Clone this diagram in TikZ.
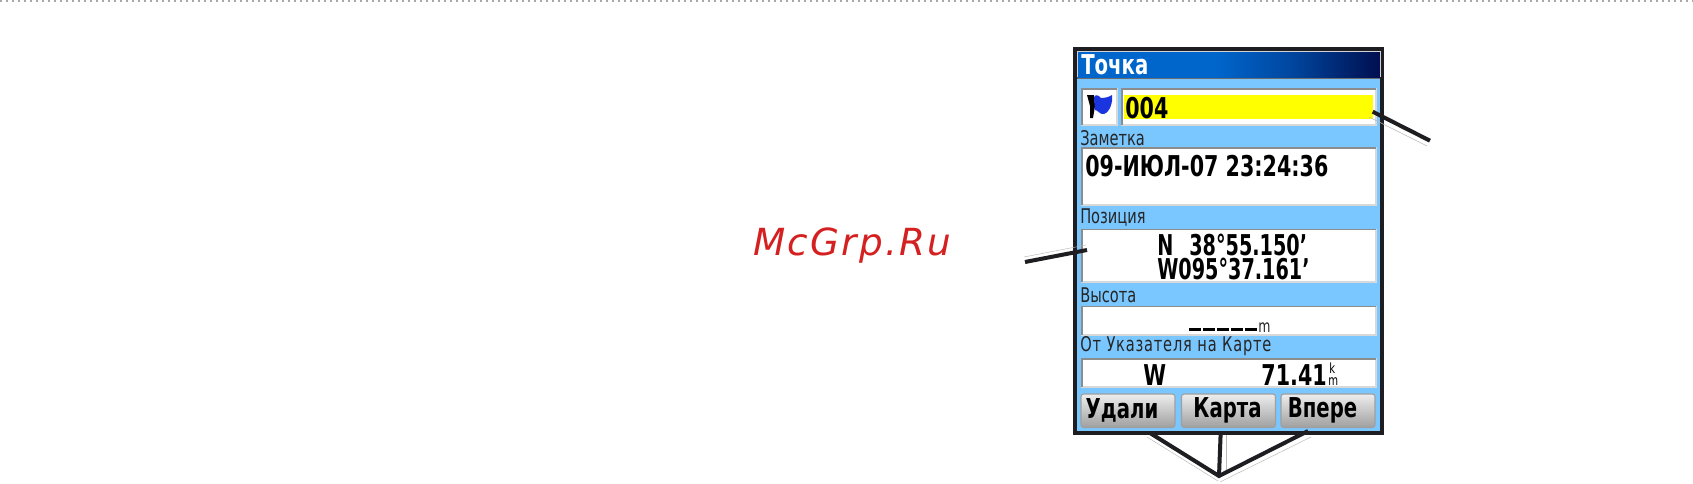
\documentclass[tikz,border=0pt]{standalone}
\usepackage{fontspec}
\setmainfont{DejaVu Sans}
\newfontfamily\lcd[FakeStretch=0.72]{DejaVu Sans}
\newfontfamily\lcdn[FakeStretch=0.67]{DejaVu Sans}
\newlength\pu
\setlength\pu{0.75pt}
\definecolor{scr}{HTML}{7AC6FF}
\definecolor{frameC}{HTML}{1E1E22}
\definecolor{boxedge}{HTML}{D8D8D8}
\definecolor{boxdark}{HTML}{8C8C8C}
\definecolor{wm}{HTML}{D42020}
\definecolor{dots}{HTML}{A8A8A8}
\definecolor{tblue}{HTML}{0066CC}
\definecolor{tmid}{HTML}{0047A0}
\definecolor{tdark}{HTML}{000F50}
\definecolor{hilite}{HTML}{FFFF00}
\definecolor{flagblue}{HTML}{1A35E0}
\tikzset{
 x=0.75pt,y=-0.75pt,
 field/.style={draw=boxedge,line width=0.9pt,fill=white,anchor=north west,inner sep=0pt,outer sep=0pt},
 btn/.style={draw=gray!75,line width=0.8pt,rounded corners=2pt,top color=white!93!black,bottom color=gray!75,anchor=north west,inner sep=0pt,outer sep=0pt,minimum height=33.5\pu,minimum width=94\pu,font=\lcd\bfseries\fontsize{20.5}{22}\selectfont},
 lbl/.style={anchor=west,inner sep=0pt,font=\lcd\fontsize{15.2}{17}\selectfont,text=black!85},
 val/.style={inner sep=0pt,anchor=base west,font=\lcd\bfseries\fontsize{21.5}{23}\selectfont},
 callout/.style={line width=3pt,draw=frameC},
 ghost/.style={line width=0.35pt,draw=gray!55},
}
\begin{document}
\begin{tikzpicture}
\useasboundingbox (0,0) rectangle (1693,483);
\fill[white] (0,0) rectangle (1693,483);
\draw[dots,line width=1.5pt,dash pattern=on 1.5pt off 3pt] (0,1) -- (1693,1);
\node[anchor=base west,inner sep=0pt,font=\itshape\fontsize{28}{30}\selectfont\addfontfeature{LetterSpace=6},text=wm] (wmk) at (753,255) {McGrp.Ru};
% ghost copies of the leader lines
\coordinate (g1a) at (1369,117); \coordinate (g1b) at (1427,146);
\coordinate (g2a) at (1024,257); \coordinate (g2b) at (1086,245);
\coordinate (g3a) at (1147,437); \coordinate (g3b) at (1226,435); \coordinate (g3c) at (1311,437);
\coordinate (g3l) at (1218,481); \coordinate (g3m) at (1226,472); \coordinate (g3r) at (1220,482);
\draw[ghost] (g3a) -- (g3l);
\draw[ghost] (g3b) -- (g3m);
\draw[ghost] (g3c) -- (g3r);
% device
\node[draw=frameC,line width=2.5pt,fill=scr,anchor=north west,minimum width=307\pu,minimum height=384\pu,inner sep=0pt,outer sep=0pt] (device) at (1075,49) {};
\fill[tblue] (1077,51) rectangle (1215,77.5);
\shade[left color=tblue,right color=tmid] (1215,51) rectangle (1290,77.5);
\shade[left color=tmid,right color=tdark] (1290,51) rectangle (1380,77.5);
\draw[gray!35,line width=0.6pt] (1077,77) |- (1380,51) -- (1380,77);
\draw[gray!85!black,line width=1.3pt] (1077,78.5) -- (1380,78.5);
\node[anchor=base west,inner sep=0pt,text=white,font=\lcd\bfseries\fontsize{20.5}{22}\selectfont] (titletxt) at (1081,74) {Точка};
% symbol field
\node[field,minimum width=35\pu,minimum height=36\pu] (flagbox) at (1082,89) {};
\fill[black] (1087,95) -- (1094,95) -- (1095,106) -- (1093,118) -- (1090,118) -- (1090,106) -- cycle;
\fill[flagblue] (1094,97) .. controls (1096,94) and (1098,95) .. (1101,98) .. controls (1105,98) and (1109,97) .. (1112,95) .. controls (1113,102) and (1110,112) .. (1104,114) .. controls (1100,115) and (1098,110) .. (1095,110) -- cycle;
\node[field,minimum width=254\pu,minimum height=36\pu] (namebox) at (1122,89) {};
\fill[hilite] (1124,95) rectangle (1373,119);
\node[val] (name) at (1125,118) {004};
\node[lbl] (notelbl) at (1080,138) {Заметка};
\node[field,minimum width=294\pu,minimum height=57\pu] (notebox) at (1082,148) {};
\node[val] (note) at (1085,176) {09-ИЮЛ-07 23:24:36};
\node[lbl] (poslbl) at (1080,218) {Позиция};
\node[field,minimum width=294\pu,minimum height=52.5\pu] (posbox) at (1082,229.5) {};
\node[val,font=\lcdn\bfseries\fontsize{21.5}{23}\selectfont] (lat) at (1157,255) {N\hspace{16\pu}38°55.150’};
\node[val,font=\lcdn\bfseries\fontsize{21.5}{23}\selectfont] (lon) at (1157,279) {W095°37.161’};
\node[lbl] (altlbl) at (1080,295) {Высота};
\node[field,minimum width=294\pu,minimum height=28.5\pu] (altbox) at (1082,306.5) {};
\node[val,anchor=base east] (alt) at (1257,332) {\rule[1\pu]{11.5\pu}{3\pu}\hspace{2.5\pu}\rule[1\pu]{11.5\pu}{3\pu}\hspace{2.5\pu}\rule[1\pu]{11.5\pu}{3\pu}\hspace{2.5\pu}\rule[1\pu]{11.5\pu}{3\pu}\hspace{2.5\pu}\rule[1\pu]{11.5\pu}{3\pu}};
\node[lbl,anchor=base west,font=\lcd\fontsize{13}{14}\selectfont] (altu) at (1258,332) {m};
\node[lbl,font=\lcd\fontsize{15.2}{17}\selectfont\addfontfeature{LetterSpace=4}] (distlbl) at (1080,346) {От Указателя на Карте};
\node[field,minimum width=294\pu,minimum height=28\pu] (distbox) at (1082,359) {};
\node[val] (dir) at (1143,385) {W};
\node[val,anchor=base east] (dist) at (1327,385) {71.41};
\node[inner sep=0pt,anchor=base west,font=\lcd\fontsize{10.5}{9}\selectfont] (distk) at (1329,373) {k};
\node[inner sep=0pt,anchor=base west,font=\lcd\fontsize{10.5}{9}\selectfont] (distm) at (1328,385) {m};
% field edges
\foreach \f in {flagbox,namebox,notebox,posbox,altbox,distbox}
  \draw[boxdark,line width=1.1pt] (\f.south west) |- (\f.north east);
% buttons
\node[btn] (b1) at (1081,394) {\kern-12\pu Удали};
\node[btn] (b2) at (1181.5,394) {\kern-2\pu Карта};
\node[btn] (b3) at (1281,394) {\kern-11\pu Впере};
% callouts
\coordinate (c1) at (1430,140.7);
\coordinate (c1e) at (1372.7,111.7);
\coordinate (c2) at (1025,262);
\coordinate (c2e) at (1087,250);
\coordinate (c3) at (1219,476);
\coordinate (c3a) at (1150,433);
\coordinate (c3b) at (1220.7,432);
\coordinate (c3c) at (1308,431);
\draw[ghost] (g1a) -- (g1b);
\draw[ghost] (g2a) -- (g2b);
\draw[callout] (c1) -- (c1e);
\draw[callout] (c2) -- (c2e);
\draw[callout] (c3a) -- (c3) -- (c3c);
\draw[callout] (c3) -- (c3b);
\end{tikzpicture}
\end{document}
